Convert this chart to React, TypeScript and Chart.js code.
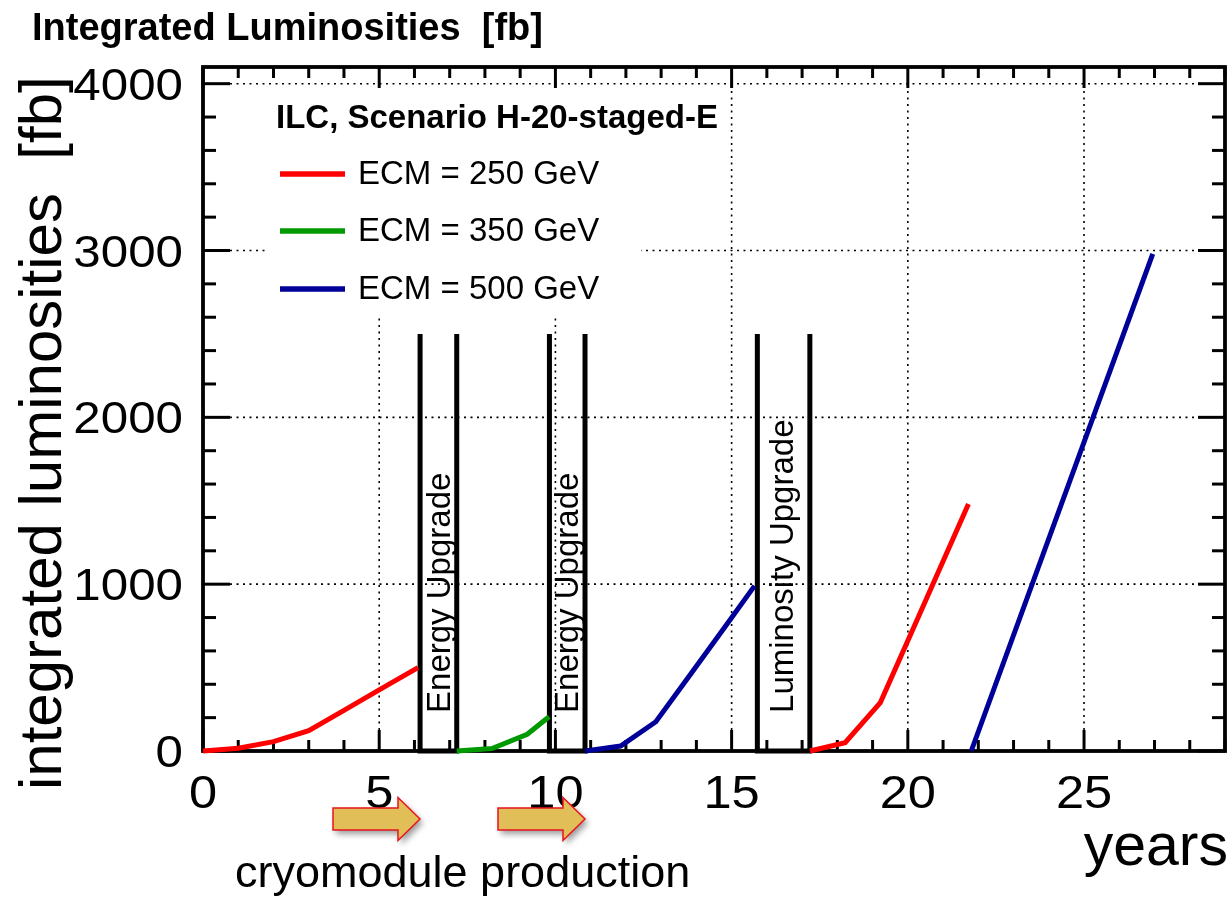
import React, { useEffect, useRef } from "react";
import { Chart, registerables } from "chart.js";

Chart.register(...registerables);

// ---------------- data ----------------
const xMajorTicks = [0, 5, 10, 15, 20, 25];
const yMajorTicks = [0, 1000, 2000, 3000, 4000];
const xMinorStep = 1;
const yMinorStep = 200;

const red1X = [0, 1, 2, 3, 4, 5, 6.1];
const red1Y = [0, 16, 56, 122, 244, 366, 500];

const greenX = [7.2, 8.2, 9.2, 9.82];
const greenY = [0, 15, 100, 205];

const blue1X = [10.85, 11.85, 12.85, 13.85, 14.85, 15.65];
const blue1Y = [0, 30, 175, 465, 755, 990];

const red2X = [17.22, 18.22, 19.22, 20.22, 21.22, 21.72];
const red2Y = [0, 50, 290, 766, 1242, 1480];

const blue2X = [21.8, 26.95];
const blue2Y = [0, 2980];

const upgradeStart = [6.16, 9.83, 15.73];
const upgradeEnd = [7.2, 10.84, 17.22];
const upgradeTop = 2500;
const upgradeLabels = ["Energy Upgrade", "Energy Upgrade", "Luminosity Upgrade"];

const legendLabels = ["ECM = 250 GeV", "ECM = 350 GeV", "ECM = 500 GeV"];
const legendHeader = "ILC, Scenario H-20-staged-E";

const RED = "#ff0000";
const GREEN = "#009900";
const BLUE = "#000099";
const FONT = '"Liberation Sans", Arial, Helvetica, sans-serif';

const pts = (xs: number[], ys: number[]) => xs.map((x, i) => ({ x, y: ys[i] }));

const boxPts = (i: number) => [
  { x: upgradeStart[i], y: upgradeTop },
  { x: upgradeStart[i], y: 0 },
  { x: upgradeEnd[i], y: 0 },
  { x: upgradeEnd[i], y: upgradeTop },
];

const rootPlugin = {
  id: "rootStyle",
  beforeDatasetsDraw(chart: any) {
    const { ctx, chartArea: a } = chart;
    const xs = chart.scales.x;
    const ys = chart.scales.y;
    const XMAJ = 21, XMIN = 11, YMAJ = 27, YMIN = 13;
    const line = (x1: number, y1: number, x2: number, y2: number) => {
      ctx.beginPath();
      ctx.moveTo(x1, y1);
      ctx.lineTo(x2, y2);
      ctx.stroke();
    };
    ctx.save();
    // dotted grid
    ctx.strokeStyle = "#000";
    ctx.lineWidth = 1.6;
    ctx.setLineDash([2, 4.5]);
    for (const v of xMajorTicks) {
      if (v === 0) continue;
      const px = xs.getPixelForValue(v);
      line(px, a.bottom - XMAJ, px, a.top + XMAJ);
    }
    for (const v of yMajorTicks) {
      if (v === 0) continue;
      const py = ys.getPixelForValue(v);
      line(a.left + YMAJ, py, a.right - YMAJ, py);
    }
    ctx.setLineDash([]);
    // legend background
    ctx.fillStyle = "#fff";
    ctx.fillRect(265, 88, 376, 230);

    // frame
    ctx.lineWidth = 3.8;
    ctx.strokeRect(a.left, a.top, a.right - a.left, a.bottom - a.top);
    // ticks
    ctx.lineWidth = 3;
    for (let v = 0; v <= xs.max + 1e-9; v += xMinorStep) {
      const px = xs.getPixelForValue(v);
      const len = xMajorTicks.includes(v) ? XMAJ : XMIN;
      line(px, a.bottom, px, a.bottom - len);
      line(px, a.top, px, a.top + len);
    }
    for (let v = 0; v <= ys.max + 1e-9; v += yMinorStep) {
      const py = ys.getPixelForValue(v);
      const len = yMajorTicks.includes(v) ? YMAJ : YMIN;
      line(a.left, py, a.left + len, py);
      line(a.right, py, a.right - len, py);
    }
    ctx.restore();
  },
  afterDatasetsDraw(chart: any) {
    const { ctx } = chart;
    const xs = chart.scales.x;
    const ys = chart.scales.y;
    ctx.save();
    ctx.fillStyle = "#000";

    // upgrade labels (rotated)
    const labelX = [7.01, 10.64, 16.74];
    ctx.font = `33px ${FONT}`;
    ctx.textAlign = "left";
    ctx.textBaseline = "alphabetic";
    upgradeLabels.forEach((t, i) => {
      ctx.save();
      ctx.translate(xs.getPixelForValue(labelX[i]), ys.getPixelForValue(228));
      ctx.rotate(-Math.PI / 2);
      ctx.fillText(t, 0, 0);
      ctx.restore();
    });

    // legend
    ctx.font = `bold 33px ${FONT}`;
    ctx.fillText(legendHeader, 276, 128);
    const colors = [RED, GREEN, BLUE];
    const rowsY = [174, 231, 289];
    ctx.font = `33px ${FONT}`;
    ctx.textBaseline = "middle";
    legendLabels.forEach((t, i) => {
      ctx.strokeStyle = colors[i];
      ctx.lineWidth = 5.5;
      ctx.beginPath();
      ctx.moveTo(280, rowsY[i]);
      ctx.lineTo(345, rowsY[i]);
      ctx.stroke();
      ctx.fillStyle = "#000";
      ctx.fillText(t, 358, rowsY[i] + 1);
    });
    ctx.restore();
  },
  afterDraw(chart: any) {
    const { ctx, chartArea: a } = chart;
    const xs = chart.scales.x;
    const ys = chart.scales.y;
    ctx.save();
    ctx.fillStyle = "#000";

    // top title
    ctx.font = `bold 38px ${FONT}`;
    ctx.textAlign = "left";
    ctx.textBaseline = "alphabetic";
    ctx.fillText("Integrated Luminosities  [fb]", 32, 40);

    // y tick labels
    ctx.font = `44px ${FONT}`;
    ctx.textAlign = "right";
    for (const v of yMajorTicks) {
      const py = ys.getPixelForValue(v);
      ctx.save();
      ctx.translate(183, py + 16);
      ctx.scale(1.12, 1);
      ctx.fillText(String(v), 0, 0);
      ctx.restore();
    }
    // x tick labels
    ctx.font = `46px ${FONT}`;
    ctx.textAlign = "center";
    for (const v of xMajorTicks) {
      const px = xs.getPixelForValue(v);
      ctx.save();
      ctx.translate(px, a.bottom + 57);
      ctx.scale(1.1, 1);
      ctx.fillText(String(v), 0, 0);
      ctx.restore();
    }

    // axis titles
    ctx.font = `59px ${FONT}`;
    ctx.textAlign = "right";
    ctx.fillText("years", 1228, 865);
    ctx.save();
    ctx.translate(61, 790);
    ctx.rotate(-Math.PI / 2);
    ctx.textAlign = "left";
    ctx.font = `60px ${FONT}`;
    ctx.fillText("integrated luminosities  [fb]", 0, 0);
    ctx.restore();

    // cryomodule arrows
    const drawArrow = (x0: number, xb: number, xt: number, cy: number) => {
      ctx.beginPath();
      ctx.moveTo(x0, cy - 11);
      ctx.lineTo(xb, cy - 11);
      ctx.lineTo(xb, cy - 21.5);
      ctx.lineTo(xt, cy);
      ctx.lineTo(xb, cy + 21.5);
      ctx.lineTo(xb, cy + 11);
      ctx.lineTo(x0, cy + 11);
      ctx.closePath();
      ctx.save();
      ctx.shadowColor = "rgba(0,0,0,0.4)";
      ctx.shadowBlur = 6;
      ctx.shadowOffsetX = 3;
      ctx.shadowOffsetY = 4;
      ctx.fillStyle = "#e1be58";
      ctx.fill();
      ctx.restore();
      ctx.strokeStyle = "#e8141e";
      ctx.lineWidth = 1.5;
      ctx.stroke();
    };
    drawArrow(333, 398, 420, 819);
    drawArrow(498, 563, 585, 819);

    ctx.fillStyle = "#000";
    ctx.font = `45px ${FONT}`;
    ctx.textAlign = "left";
    ctx.fillText("cryomodule production", 235, 887);
    ctx.restore();
  },
};

export default function App() {
  const ref = useRef<HTMLCanvasElement>(null);
  useEffect(() => {
    const lineDs = (label: string, data: any[], color: string, width = 5) => ({
      label,
      data,
      borderColor: color,
      backgroundColor: color,
      borderWidth: width,
      pointRadius: 0,
      pointHoverRadius: 0,
      tension: 0,
      fill: false,
      clip: false as any,
      borderJoinStyle: "miter" as const,
    });
    const chart = new Chart(ref.current!, {
      type: "line",
      data: {
        datasets: [
          lineDs("ECM = 250 GeV", pts(red1X, red1Y), RED),
          lineDs("ECM = 350 GeV", pts(greenX, greenY), GREEN),
          lineDs("ECM = 500 GeV", pts(blue1X, blue1Y), BLUE),
          lineDs("ECM = 250 GeV (2)", pts(red2X, red2Y), RED),
          lineDs("ECM = 500 GeV (2)", pts(blue2X, blue2Y), BLUE),
          lineDs("upgrade 1", boxPts(0), "#000", 5),
          lineDs("upgrade 2", boxPts(1), "#000", 5),
          lineDs("upgrade 3", boxPts(2), "#000", 5),
        ],
      },
      options: {
        responsive: false,
        animation: false,
        devicePixelRatio: 1,
        layout: { padding: { left: 203, right: 7, top: 67, bottom: 150 } },
        plugins: { legend: { display: false }, tooltip: { enabled: false }, title: { display: false } },
        events: [],
        scales: {
          x: { type: "linear", min: 0, max: 29, display: false },
          y: { type: "linear", min: 0, max: 4100, display: false },
        },
      },
      plugins: [rootPlugin],
    });
    return () => chart.destroy();
  }, []);
  return (
    <div style={{ position: "fixed", left: 0, top: 0, width: 1232, height: 901, background: "#fff" }}>
      <canvas ref={ref} width={1232} height={901} style={{ display: "block", width: 1232, height: 901 }} />
    </div>
  );
}
